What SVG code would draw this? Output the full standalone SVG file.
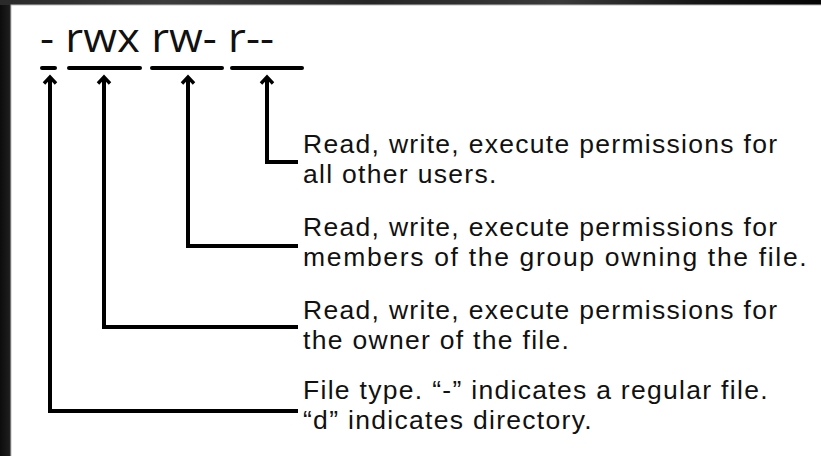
<svg xmlns="http://www.w3.org/2000/svg" width="821" height="456" viewBox="0 0 821 456">
<defs>
<linearGradient id="topg" x1="0" y1="0" x2="1" y2="0">
<stop offset="0" stop-color="#2a2a2a"/>
<stop offset="0.2" stop-color="#3c3c3c"/>
<stop offset="0.45" stop-color="#262626"/>
<stop offset="0.68" stop-color="#3a3a3a"/>
<stop offset="0.85" stop-color="#161616"/>
<stop offset="1" stop-color="#050505"/>
</linearGradient>
<linearGradient id="leftg" x1="0" y1="0" x2="1" y2="0">
<stop offset="0" stop-color="#0c0c0c"/>
<stop offset="0.8" stop-color="#1c1c1c"/>
<stop offset="1" stop-color="#2a2a2a"/>
</linearGradient>
<marker id="ah" markerWidth="16" markerHeight="16" refX="13" refY="8" orient="auto-start-reverse" markerUnits="userSpaceOnUse" viewBox="0 0 16 16">
<path d="M6.5,2 L13,8 L6.5,14" fill="none" stroke="#000" stroke-width="3.4" stroke-linejoin="miter"/>
</marker>
<style>
.h{font-family:"Open Sans","Liberation Sans",sans-serif;fill:#111;}
.t{font-family:"Liberation Sans",Arial,sans-serif;fill:#111;font-size:26.5px;letter-spacing:1.3px;}
.c{fill:none;stroke:#000;stroke-width:4;}
.u{stroke:#000;stroke-width:4;stroke-linecap:round;}
</style>
</defs>
<rect x="0" y="0" width="821" height="456" fill="#111"/>
<rect x="0" y="0" width="11" height="456" fill="url(#leftg)"/>
<rect x="0" y="0" width="821" height="5" fill="url(#topg)"/>
<rect x="11" y="5" width="830" height="470" fill="#fff" stroke="#bdbdbd" stroke-width="1"/>

<g id="title">
<text class="h" x="40" y="52" font-size="41" textLength="234" lengthAdjust="spacingAndGlyphs">- rwx rw- r--</text>
<line class="u" x1="42" y1="68" x2="55" y2="68"/>
<line class="u" x1="69" y1="68" x2="140" y2="68"/>
<line class="u" x1="152" y1="68" x2="222" y2="68"/>
<line class="u" x1="232" y1="68" x2="302" y2="68"/>
</g>

<g id="connectors">
<path class="c" d="M267,77 V162 H298" marker-start="url(#ah)"/>
<path class="c" d="M188,77 V246 H298" marker-start="url(#ah)"/>
<path class="c" d="M104,77 V327 H298" marker-start="url(#ah)"/>
<path class="c" d="M50,77 V411 H298" marker-start="url(#ah)"/>
</g>

<g id="others">
<text class="t" x="303" y="153">Read, write, execute permissions for<tspan x="303" dy="30">all other users.</tspan></text>
</g>
<g id="group">
<text class="t" x="303" y="236">Read, write, execute permissions for<tspan x="303" dy="30" textLength="505">members of the group owning the file.</tspan></text>
</g>
<g id="owner">
<text class="t" x="303" y="319">Read, write, execute permissions for<tspan x="303" dy="30">the owner of the file.</tspan></text>
</g>
<g id="filetype">
<text class="t" x="303" y="399">File type. “-” indicates a regular file.<tspan x="303" dy="30">“d” indicates directory.</tspan></text>
</g>
</svg>
